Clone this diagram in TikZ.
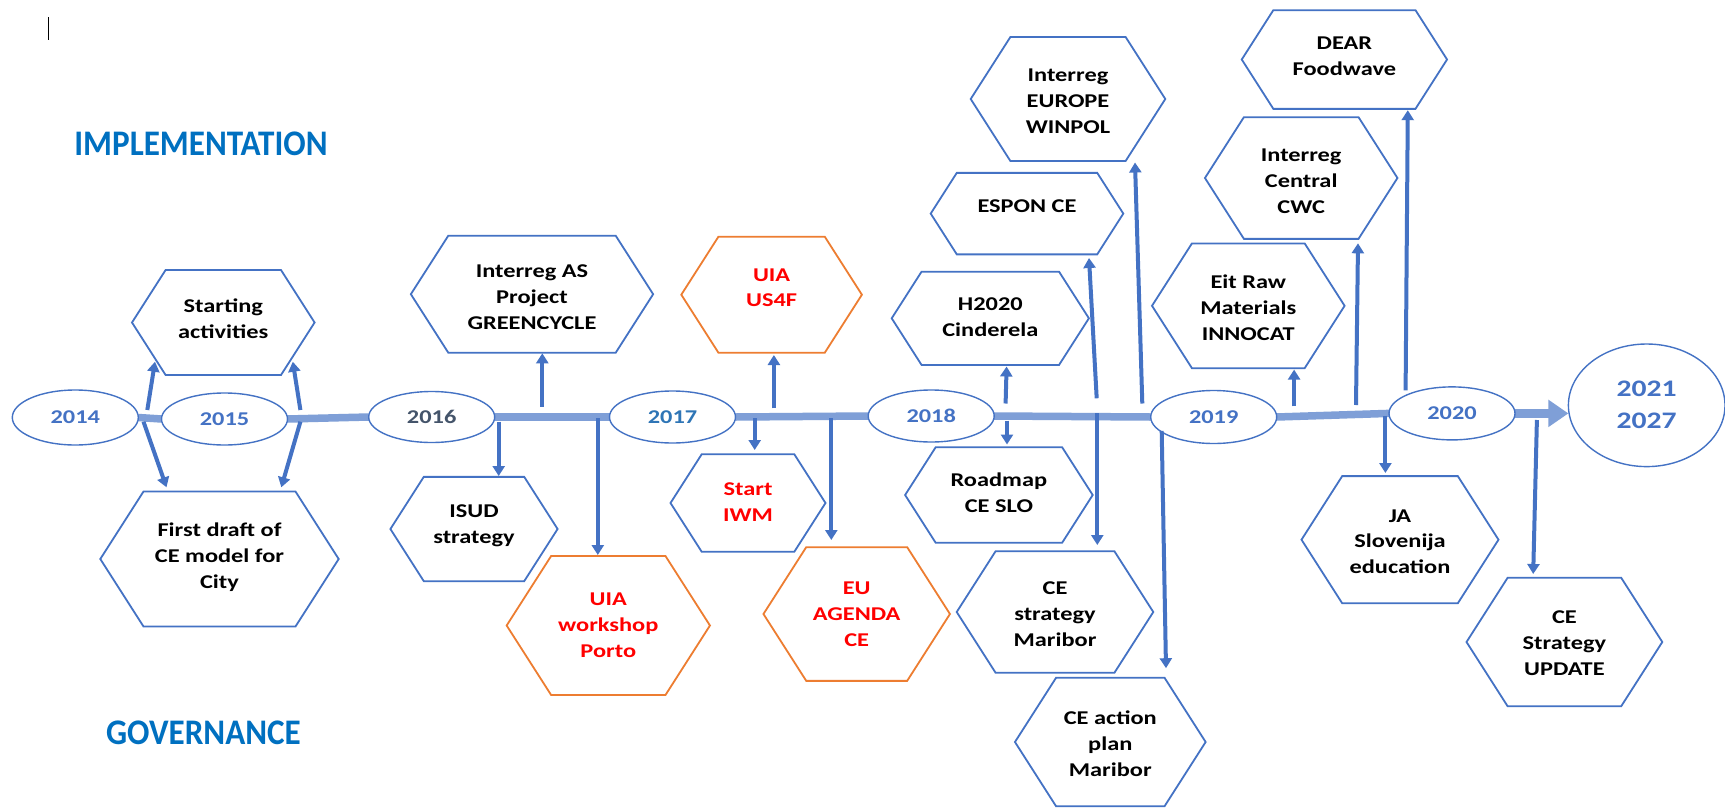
\documentclass[tikz,border=0pt]{standalone}
\usepackage{fontspec}
\setmainfont{Carlito}
\newfontfamily\boxfont{Carlito}[FakeStretch=1.25]
\newfontfamily\headfont{Carlito}[FakeStretch=0.92]
\usetikzlibrary{shapes.geometric,arrows.meta,calc}
\pgfdeclarelayer{background}
\pgfsetlayers{background,main}
\definecolor{arrowblue}{HTML}{4472C4}
\definecolor{barblue}{HTML}{7F9FD7}
\definecolor{hexorange}{HTML}{ED7D31}
\definecolor{headblue}{HTML}{0070C0}
\definecolor{txtred}{HTML}{FF0000}
\definecolor{yeargrey}{HTML}{44546A}
\definecolor{yearmid}{HTML}{2E75B6}
\tikzset{
  hexgeo/.style={inner sep=0, outer sep=0},
  hextext/.style={font=\boxfont\bfseries\fontsize{19.5}{25.8}\selectfont, align=center, inner sep=0},
  hexline/.style={line width=1.8pt, line join=miter},
  yearnode/.style={ellipse, draw=arrowblue, line width=1.4pt, fill=white, inner sep=0, outer sep=0,
    text=arrowblue, font=\boxfont\bfseries\fontsize{19.5}{24}\selectfont},
  bar/.style={draw=barblue, line width=7.5pt},
  arr/.style={draw=arrowblue, line width=4pt, -{Triangle[width=12pt,length=10pt]}},
  headtxt/.style={font=\headfont\bfseries\fontsize{36}{40}\selectfont, text=headblue, inner sep=0},
}
% name, x, y, w, h, line colour, text colour, text yshift (pt, up), text
\newcommand\hexa[9]{%
  \node[hexgeo, minimum width=#4pt, minimum height=#5pt] (#1) at (#2,#3) {};
  \draw[hexline, draw=#6] (#1.west) -- ([xshift=0.32*#5pt]#1.north west)
    -- ([xshift=-0.32*#5pt]#1.north east) -- (#1.east)
    -- ([xshift=-0.32*#5pt]#1.south east) -- ([xshift=0.32*#5pt]#1.south west) -- cycle;
  \node[hextext, text=#7] (#1-t) at ([yshift=#8pt]#1.center) {#9};
}
\begin{document}
\begin{tikzpicture}[x=1pt, y=-1pt]
\begin{pgfonlayer}{background}
\fill[white] (0,0) rectangle (1725,809);
\end{pgfonlayer}
\useasboundingbox (0,0) rectangle (1725,809);

% cursor mark
\draw[line width=1pt] (48.5,17) -- (48.5,40);

% headings
\node[headtxt] (impl) at (201,143.5) {IMPLEMENTATION};
\node[headtxt] (gov) at (203.5,733) {GOVERNANCE};

% year ellipses
\node[yearnode, minimum width=126pt, minimum height=55pt] (e2014) at (75.3,417.5) {2014};
\node[yearnode, minimum width=126pt, minimum height=52pt] (e2015) at (224.5,419) {2015};
\node[yearnode, minimum width=126pt, minimum height=51pt, text=yeargrey] (e2016) at (431.7,417) {2016};
\node[yearnode, minimum width=126pt, minimum height=52pt, text=yearmid] (e2017) at (672.5,417) {2017};
\node[yearnode, minimum width=126pt, minimum height=52pt] (e2018) at (931.2,416) {2018};
\node[yearnode, minimum width=126pt, minimum height=53pt] (e2019) at (1213.7,417) {2019};
\node[yearnode, minimum width=126pt, minimum height=53pt] (e2020) at (1452,413.4) {2020};
\node[yearnode, minimum width=156.6pt, minimum height=122.6pt, align=center,
  font=\boxfont\bfseries\fontsize{23.7}{32}\selectfont] (e2021) at (1646.7,405.3) {2021\\2027};

% timeline bar (behind the ellipses)
\begin{pgfonlayer}{background}
\draw[bar] (e2014.east) -- (e2015.west);
\draw[bar] (e2015.east) -- (e2016.west);
\draw[bar] (e2016.east) -- (e2017.west);
\draw[bar] (e2017.east) -- (e2018.west);
\draw[bar] (e2018.east) -- (e2019.west);
\draw[bar] (e2019.east) -- (e2020.west);
\draw[draw=barblue, line width=9pt, -{Triangle[width=26pt,length=20pt]}] (e2020.east) -- (e2020.east -| e2021.west);
\end{pgfonlayer}

% hexagons
\hexa{start}{223.3}{322.5}{182.6}{105}{arrowblue}{black}{4}{Starting\\activities}
\hexa{draft}{219.5}{559}{238.4}{135}{arrowblue}{black}{2}{First draft of\\CE model for\\City}
\hexa{greencycle}{532}{294.2}{242.3}{117}{arrowblue}{black}{-3}{Interreg AS\\Project\\GREENCYCLE}
\hexa{isud}{474}{529}{167.2}{104.3}{arrowblue}{black}{3}{ISUD\\strategy}
\hexa{porto}{608.3}{625.5}{203.3}{139}{hexorange}{txtred}{0}{UIA\\workshop\\Porto}
\hexa{us4f}{771.6}{294.7}{180.6}{116}{hexorange}{txtred}{7}{UIA\\US4F}
\hexa{iwm}{748}{503}{155}{97.4}{arrowblue}{txtred}{1}{Start\\IWM}
\hexa{agenda}{856.7}{614}{186.5}{133.7}{hexorange}{txtred}{0}{EU\\AGENDA\\CE}
\hexa{h2020}{990.3}{318.3}{197.2}{93.3}{arrowblue}{black}{1}{H2020\\Cinderela}
\hexa{roadmap}{998.9}{495}{187.6}{95.4}{arrowblue}{black}{2}{Roadmap\\CE SLO}
\hexa{espon}{1027}{213.6}{192.6}{81.5}{arrowblue}{black}{7}{ESPON CE}
\hexa{winpol}{1068}{99}{194.6}{124}{arrowblue}{black}{-2}{Interreg\\EUROPE\\WINPOL}
\hexa{cestrat}{1055}{612}{196.6}{121.5}{arrowblue}{black}{-2}{CE\\strategy\\Maribor}
\hexa{actplan}{1110.3}{742}{190.7}{128.5}{arrowblue}{black}{-2}{CE action\\plan\\Maribor}
\hexa{eit}{1248.3}{305.8}{192.6}{124.7}{arrowblue}{black}{-2}{Eit Raw\\Materials\\INNOCAT}
\hexa{cwc}{1301.2}{178}{192.5}{121.7}{arrowblue}{black}{-3}{Interreg\\Central\\CWC}
\hexa{dear}{1344.4}{59.5}{205.3}{98.7}{arrowblue}{black}{3}{DEAR\\Foodwave}
\hexa{ja}{1400}{539.7}{197}{127.2}{arrowblue}{black}{-2}{JA\\Slovenija\\education}
\hexa{update}{1564.4}{642}{195.8}{128.5}{arrowblue}{black}{-1}{CE\\Strategy\\UPDATE}

% connector end points
\coordinate (s1) at (147.3,410);   \coordinate (t1) at (155,361.7);
\coordinate (s2) at (300.4,410);   \coordinate (t2) at (292.8,361.7);
\coordinate (s3) at (143.5,421.7); \coordinate (t3) at (166.5,487.3);
\coordinate (s4) at (300.4,421.7); \coordinate (t4) at (281.3,487.3);
\coordinate (s5) at (542.3,406.7); \coordinate (t5) at (542.3,353.3);
\coordinate (s6) at (498.7,421.7); \coordinate (t6) at (498.7,476);
\coordinate (s7) at (597.8,418);   \coordinate (t7) at (597.8,555);
\coordinate (s8) at (773.9,408.3); \coordinate (t8) at (773.9,355);
\coordinate (s9) at (754.7,418);   \coordinate (t9) at (754.7,450);
\coordinate (s10) at (831.3,418);  \coordinate (t10) at (831.3,540);
\coordinate (s11) at (1005.6,403.5); \coordinate (t11) at (1006.6,366.5);
\coordinate (s12) at (1007,420.5); \coordinate (t12) at (1007,444.5);
\coordinate (s13) at (1096.7,398.3); \coordinate (t13) at (1089,258);
\coordinate (s14) at (1097.3,413); \coordinate (t14) at (1097.3,545);
\coordinate (s15) at (1142.3,403.5); \coordinate (t15) at (1135,162.5);
\coordinate (s16) at (1161.7,430.9); \coordinate (t16) at (1166,668.2);
\coordinate (s17) at (1294.1,406.3); \coordinate (t17) at (1294.1,369.6);
\coordinate (s18) at (1356,405);   \coordinate (t18) at (1358,243.3);
\coordinate (s19) at (1405.6,390.3); \coordinate (t19) at (1407.8,110.2);
\coordinate (s20) at (1385.4,415.5); \coordinate (t20) at (1385.4,473);
\coordinate (s21) at (1536.9,420); \coordinate (t21) at (1533.2,574);

\foreach \i in {1,...,21}{ \draw[arr] (s\i) -- (t\i); }
\end{tikzpicture}
\end{document}
